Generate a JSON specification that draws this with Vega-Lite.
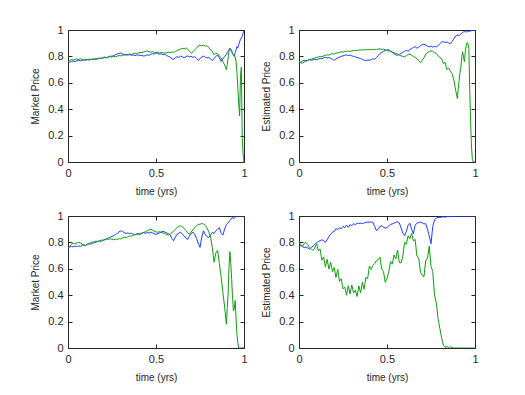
{
"$schema":"https://vega.github.io/schema/vega-lite/v6.json",
"padding":{"left":30,"top":24,"right":5,"bottom":5},
"background":"white",
"datasets":{"d":[
{"t":0,"a":0.760,"b":0.760,"c":0.760,"d":0.760,"e":0.760,"f":0.760,"g":0.770,"h":0.800},
{"t":0.01,"a":0.755,"b":0.768,"c":0.755,"d":0.752,"e":0.765,"f":0.770,"g":0.775,"h":0.785},
{"t":0.02,"a":0.762,"b":0.775,"c":0.765,"d":0.748,"e":0.770,"f":0.785,"g":0.768,"h":0.770},
{"t":0.03,"a":0.765,"b":0.772,"c":0.770,"d":0.758,"e":0.766,"f":0.792,"g":0.760,"h":0.792},
{"t":0.04,"a":0.760,"b":0.778,"c":0.766,"d":0.764,"e":0.772,"f":0.788,"g":0.765,"h":0.800},
{"t":0.05,"a":0.768,"b":0.780,"c":0.772,"d":0.770,"e":0.768,"f":0.796,"g":0.758,"h":0.782},
{"t":0.06,"a":0.772,"b":0.776,"c":0.776,"d":0.775,"e":0.774,"f":0.800,"g":0.750,"h":0.762},
{"t":0.07,"a":0.766,"b":0.782,"c":0.770,"d":0.780,"e":0.770,"f":0.795,"g":0.762,"h":0.748},
{"t":0.08,"a":0.770,"b":0.778,"c":0.774,"d":0.784,"e":0.778,"f":0.788,"g":0.772,"h":0.740},
{"t":0.09,"a":0.774,"b":0.774,"c":0.778,"d":0.788,"e":0.782,"f":0.778,"g":0.785,"h":0.758},
{"t":0.10,"a":0.770,"b":0.778,"c":0.775,"d":0.792,"e":0.778,"f":0.775,"g":0.798,"h":0.790},
{"t":0.11,"a":0.776,"b":0.775,"c":0.780,"d":0.795,"e":0.786,"f":0.785,"g":0.808,"h":0.735},
{"t":0.12,"a":0.772,"b":0.780,"c":0.785,"d":0.800,"e":0.790,"f":0.792,"g":0.812,"h":0.750},
{"t":0.13,"a":0.778,"b":0.776,"c":0.782,"d":0.797,"e":0.786,"f":0.798,"g":0.820,"h":0.665},
{"t":0.14,"a":0.775,"b":0.781,"c":0.790,"d":0.804,"e":0.794,"f":0.802,"g":0.815,"h":0.690},
{"t":0.15,"a":0.780,"b":0.779,"c":0.794,"d":0.808,"e":0.798,"f":0.806,"g":0.800,"h":0.615},
{"t":0.16,"a":0.778,"b":0.783,"c":0.788,"d":0.812,"e":0.802,"f":0.810,"g":0.820,"h":0.672},
{"t":0.17,"a":0.784,"b":0.780,"c":0.792,"d":0.810,"e":0.808,"f":0.806,"g":0.845,"h":0.598},
{"t":0.18,"a":0.788,"b":0.786,"c":0.785,"d":0.816,"e":0.812,"f":0.812,"g":0.862,"h":0.650},
{"t":0.19,"a":0.785,"b":0.784,"c":0.778,"d":0.820,"e":0.808,"f":0.818,"g":0.878,"h":0.578},
{"t":0.20,"a":0.792,"b":0.788,"c":0.770,"d":0.818,"e":0.818,"f":0.814,"g":0.882,"h":0.610},
{"t":0.21,"a":0.795,"b":0.792,"c":0.782,"d":0.824,"e":0.822,"f":0.820,"g":0.905,"h":0.535},
{"t":0.22,"a":0.790,"b":0.789,"c":0.788,"d":0.828,"e":0.828,"f":0.826,"g":0.896,"h":0.595},
{"t":0.23,"a":0.798,"b":0.794,"c":0.795,"d":0.830,"e":0.834,"f":0.822,"g":0.912,"h":0.505},
{"t":0.24,"a":0.803,"b":0.798,"c":0.800,"d":0.834,"e":0.840,"f":0.828,"g":0.904,"h":0.525},
{"t":0.25,"a":0.800,"b":0.795,"c":0.804,"d":0.832,"e":0.846,"f":0.824,"g":0.922,"h":0.448},
{"t":0.26,"a":0.808,"b":0.800,"c":0.808,"d":0.836,"e":0.852,"f":0.820,"g":0.912,"h":0.462},
{"t":0.27,"a":0.812,"b":0.797,"c":0.812,"d":0.838,"e":0.860,"f":0.826,"g":0.930,"h":0.400},
{"t":0.28,"a":0.818,"b":0.802,"c":0.806,"d":0.840,"e":0.868,"f":0.822,"g":0.914,"h":0.472},
{"t":0.29,"a":0.822,"b":0.806,"c":0.810,"d":0.837,"e":0.880,"f":0.828,"g":0.935,"h":0.410},
{"t":0.30,"a":0.826,"b":0.804,"c":0.804,"d":0.842,"e":0.888,"f":0.826,"g":0.926,"h":0.478},
{"t":0.31,"a":0.818,"b":0.808,"c":0.800,"d":0.844,"e":0.882,"f":0.834,"g":0.942,"h":0.418},
{"t":0.32,"a":0.812,"b":0.812,"c":0.796,"d":0.846,"e":0.874,"f":0.840,"g":0.934,"h":0.438},
{"t":0.33,"a":0.816,"b":0.810,"c":0.792,"d":0.845,"e":0.868,"f":0.836,"g":0.945,"h":0.390},
{"t":0.34,"a":0.810,"b":0.815,"c":0.788,"d":0.848,"e":0.872,"f":0.844,"g":0.944,"h":0.470},
{"t":0.35,"a":0.814,"b":0.818,"c":0.784,"d":0.850,"e":0.866,"f":0.850,"g":0.946,"h":0.418},
{"t":0.36,"a":0.808,"b":0.814,"c":0.778,"d":0.848,"e":0.870,"f":0.846,"g":0.942,"h":0.498},
{"t":0.37,"a":0.812,"b":0.820,"c":0.772,"d":0.851,"e":0.862,"f":0.854,"g":0.948,"h":0.445},
{"t":0.38,"a":0.806,"b":0.824,"c":0.768,"d":0.849,"e":0.858,"f":0.858,"g":0.950,"h":0.535},
{"t":0.39,"a":0.810,"b":0.822,"c":0.772,"d":0.852,"e":0.864,"f":0.862,"g":0.954,"h":0.525},
{"t":0.40,"a":0.812,"b":0.826,"c":0.770,"d":0.850,"e":0.868,"f":0.856,"g":0.952,"h":0.622},
{"t":0.41,"a":0.806,"b":0.830,"c":0.776,"d":0.853,"e":0.862,"f":0.864,"g":0.956,"h":0.595},
{"t":0.42,"a":0.808,"b":0.828,"c":0.782,"d":0.850,"e":0.870,"f":0.870,"g":0.952,"h":0.625},
{"t":0.43,"a":0.802,"b":0.834,"c":0.778,"d":0.854,"e":0.874,"f":0.876,"g":0.920,"h":0.640},
{"t":0.44,"a":0.806,"b":0.838,"c":0.790,"d":0.852,"e":0.868,"f":0.880,"g":0.890,"h":0.662},
{"t":0.45,"a":0.812,"b":0.842,"c":0.805,"d":0.856,"e":0.876,"f":0.888,"g":0.900,"h":0.668},
{"t":0.46,"a":0.808,"b":0.836,"c":0.822,"d":0.858,"e":0.870,"f":0.894,"g":0.920,"h":0.688},
{"t":0.47,"a":0.816,"b":0.832,"c":0.830,"d":0.852,"e":0.878,"f":0.900,"g":0.926,"h":0.598},
{"t":0.48,"a":0.820,"b":0.836,"c":0.838,"d":0.855,"e":0.872,"f":0.894,"g":0.915,"h":0.580},
{"t":0.49,"a":0.818,"b":0.830,"c":0.844,"d":0.850,"e":0.866,"f":0.886,"g":0.908,"h":0.498},
{"t":0.50,"a":0.826,"b":0.828,"c":0.848,"d":0.846,"e":0.860,"f":0.880,"g":0.912,"h":0.528},
{"t":0.51,"a":0.822,"b":0.832,"c":0.852,"d":0.842,"e":0.866,"f":0.876,"g":0.925,"h":0.575},
{"t":0.52,"a":0.816,"b":0.826,"c":0.840,"d":0.838,"e":0.872,"f":0.882,"g":0.936,"h":0.655},
{"t":0.53,"a":0.820,"b":0.830,"c":0.832,"d":0.832,"e":0.878,"f":0.876,"g":0.940,"h":0.635},
{"t":0.54,"a":0.812,"b":0.827,"c":0.820,"d":0.828,"e":0.884,"f":0.872,"g":0.946,"h":0.705},
{"t":0.55,"a":0.816,"b":0.824,"c":0.812,"d":0.824,"e":0.878,"f":0.866,"g":0.952,"h":0.675},
{"t":0.56,"a":0.808,"b":0.828,"c":0.808,"d":0.818,"e":0.872,"f":0.860,"g":0.956,"h":0.742},
{"t":0.57,"a":0.800,"b":0.832,"c":0.815,"d":0.810,"e":0.866,"f":0.856,"g":0.948,"h":0.648},
{"t":0.58,"a":0.795,"b":0.828,"c":0.822,"d":0.804,"e":0.858,"f":0.862,"g":0.910,"h":0.645},
{"t":0.59,"a":0.782,"b":0.834,"c":0.830,"d":0.800,"e":0.830,"f":0.872,"g":0.870,"h":0.695},
{"t":0.60,"a":0.778,"b":0.830,"c":0.838,"d":0.796,"e":0.812,"f":0.886,"g":0.850,"h":0.800},
{"t":0.61,"a":0.790,"b":0.838,"c":0.846,"d":0.806,"e":0.840,"f":0.900,"g":0.885,"h":0.788},
{"t":0.62,"a":0.798,"b":0.845,"c":0.840,"d":0.814,"e":0.862,"f":0.912,"g":0.930,"h":0.850},
{"t":0.63,"a":0.792,"b":0.850,"c":0.852,"d":0.818,"e":0.870,"f":0.920,"g":0.945,"h":0.828},
{"t":0.64,"a":0.802,"b":0.856,"c":0.860,"d":0.808,"e":0.878,"f":0.926,"g":0.900,"h":0.868},
{"t":0.65,"a":0.796,"b":0.862,"c":0.868,"d":0.800,"e":0.862,"f":0.918,"g":0.865,"h":0.812},
{"t":0.66,"a":0.790,"b":0.858,"c":0.874,"d":0.792,"e":0.848,"f":0.904,"g":0.930,"h":0.822},
{"t":0.67,"a":0.798,"b":0.864,"c":0.862,"d":0.784,"e":0.832,"f":0.890,"g":0.945,"h":0.695},
{"t":0.68,"a":0.804,"b":0.855,"c":0.870,"d":0.768,"e":0.822,"f":0.872,"g":0.950,"h":0.685},
{"t":0.69,"a":0.796,"b":0.838,"c":0.882,"d":0.752,"e":0.850,"f":0.862,"g":0.955,"h":0.575},
{"t":0.70,"a":0.800,"b":0.825,"c":0.888,"d":0.770,"e":0.868,"f":0.878,"g":0.948,"h":0.552},
{"t":0.71,"a":0.792,"b":0.835,"c":0.892,"d":0.790,"e":0.878,"f":0.895,"g":0.940,"h":0.540},
{"t":0.72,"a":0.798,"b":0.850,"c":0.886,"d":0.818,"e":0.862,"f":0.912,"g":0.942,"h":0.665},
{"t":0.73,"a":0.785,"b":0.862,"c":0.878,"d":0.830,"e":0.830,"f":0.926,"g":0.900,"h":0.678},
{"t":0.74,"a":0.770,"b":0.878,"c":0.872,"d":0.836,"e":0.795,"f":0.935,"g":0.850,"h":0.772},
{"t":0.75,"a":0.782,"b":0.886,"c":0.878,"d":0.842,"e":0.762,"f":0.938,"g":0.790,"h":0.618},
{"t":0.76,"a":0.796,"b":0.880,"c":0.870,"d":0.838,"e":0.840,"f":0.942,"g":0.920,"h":0.580},
{"t":0.77,"a":0.802,"b":0.884,"c":0.876,"d":0.830,"e":0.888,"f":0.940,"g":0.970,"h":0.400},
{"t":0.78,"a":0.794,"b":0.878,"c":0.872,"d":0.820,"e":0.860,"f":0.928,"g":0.985,"h":0.345},
{"t":0.79,"a":0.788,"b":0.882,"c":0.882,"d":0.808,"e":0.842,"f":0.910,"g":0.990,"h":0.225},
{"t":0.80,"a":0.792,"b":0.868,"c":0.895,"d":0.790,"e":0.838,"f":0.880,"g":0.988,"h":0.150},
{"t":0.81,"a":0.780,"b":0.850,"c":0.908,"d":0.785,"e":0.856,"f":0.840,"g":0.992,"h":0.080},
{"t":0.82,"a":0.770,"b":0.836,"c":0.912,"d":0.745,"e":0.876,"f":0.760,"g":0.994,"h":0.020},
{"t":0.83,"a":0.782,"b":0.812,"c":0.905,"d":0.755,"e":0.868,"f":0.650,"g":0.992,"h":0.005},
{"t":0.84,"a":0.800,"b":0.825,"c":0.910,"d":0.700,"e":0.888,"f":0.720,"g":0.995,"h":0.012},
{"t":0.85,"a":0.810,"b":0.820,"c":0.902,"d":0.712,"e":0.900,"f":0.740,"g":0.996,"h":0.004},
{"t":0.86,"a":0.790,"b":0.802,"c":0.896,"d":0.690,"e":0.912,"f":0.640,"g":0.995,"h":0.010},
{"t":0.87,"a":0.762,"b":0.790,"c":0.912,"d":0.670,"e":0.870,"f":0.540,"g":0.997,"h":0.002},
{"t":0.88,"a":0.780,"b":0.760,"c":0.935,"d":0.620,"e":0.855,"f":0.420,"g":0.998,"h":0},
{"t":0.89,"a":0.800,"b":0.735,"c":0.955,"d":0.545,"e":0.900,"f":0.310,"g":0.998,"h":0},
{"t":0.90,"a":0.815,"b":0.700,"c":0.962,"d":0.480,"e":0.935,"f":0.180,"g":0.999,"h":0},
{"t":0.905,"a":0.830,"b":0.740,"c":0.960,"d":0.560,"e":0.940,"f":0.300,"g":1,"h":0},
{"t":0.91,"a":0.840,"b":0.790,"c":0.958,"d":0.620,"e":0.950,"f":0.420,"g":1,"h":0},
{"t":0.915,"a":0.850,"b":0.840,"c":0.964,"d":0.680,"e":0.955,"f":0.620,"g":1,"h":0},
{"t":0.92,"a":0.862,"b":0.860,"c":0.970,"d":0.720,"e":0.965,"f":0.730,"g":1,"h":0},
{"t":0.925,"a":0.855,"b":0.850,"c":0.976,"d":0.800,"e":0.975,"f":0.640,"g":1,"h":0},
{"t":0.93,"a":0.845,"b":0.835,"c":0.982,"d":0.835,"e":0.985,"f":0.520,"g":1,"h":0},
{"t":0.935,"a":0.820,"b":0.820,"c":0.986,"d":0.790,"e":0.990,"f":0.380,"g":1,"h":0},
{"t":0.94,"a":0.812,"b":0.812,"c":0.988,"d":0.760,"e":0.978,"f":0.280,"g":1,"h":0},
{"t":0.945,"a":0.800,"b":0.800,"c":0.986,"d":0.840,"e":0.985,"f":0.300,"g":1,"h":0},
{"t":0.95,"a":0.830,"b":0.798,"c":0.985,"d":0.880,"e":0.990,"f":0.360,"g":1,"h":0},
{"t":0.955,"a":0.850,"b":0.760,"c":0.990,"d":0.905,"e":0.995,"f":0.220,"g":1,"h":0},
{"t":0.96,"a":0.875,"b":0.680,"c":0.992,"d":0.895,"e":0.998,"f":0.100,"g":1,"h":0},
{"t":0.965,"a":0.865,"b":0.560,"c":0.990,"d":0.860,"e":1,"f":0.040,"g":1,"h":0},
{"t":0.97,"a":0.890,"b":0.440,"c":0.990,"d":0.560,"e":1,"f":0,"g":1,"h":0},
{"t":0.975,"a":0.910,"b":0.350,"c":0.993,"d":0.300,"e":1,"f":0,"g":1,"h":0},
{"t":0.98,"a":0.930,"b":0.650,"c":0.995,"d":0.120,"e":1,"f":0,"g":1,"h":0},
{"t":0.985,"a":0.940,"b":0.720,"c":0.997,"d":0.020,"e":1,"f":0,"g":1,"h":0},
{"t":0.99,"a":0.955,"b":0.180,"c":0.998,"d":0,"e":1,"f":0,"g":1,"h":0},
{"t":0.995,"a":0.975,"b":0.060,"c":1,"d":0,"e":1,"f":0,"g":1,"h":0},
{"t":1,"a":0.995,"b":0,"c":1,"d":0,"e":1,"f":0,"g":1,"h":0}
]},
"columns":2,
"spacing":{"row":54,"column":55},
"bounds":"flush",
"concat":[
{"width":176,"height":132,"data":{"name":"d"},
 "layer":[
  {"mark":{"type":"line","color":"#1e3cff","strokeWidth":1,"clip":true},
   "encoding":{"x":{"field":"t","type":"quantitative","scale":{"domain":[0,1],"nice":false},"axis":{"orient":"bottom","values":[0,0.5,1],"title":"time (yrs)"}},
               "y":{"field":"a","type":"quantitative","scale":{"domain":[0,1],"nice":false},"axis":{"orient":"left","values":[0,0.2,0.4,0.6,0.8,1],"title":"Market Price"}}}},
  {"mark":{"type":"line","color":"#129a12","strokeWidth":1,"clip":true},
   "encoding":{"x":{"field":"t","type":"quantitative","axis":null},"y":{"field":"b","type":"quantitative","axis":null}}},
  {"mark":{"type":"point","opacity":0,"size":0},
   "encoding":{"x":{"field":"t","type":"quantitative","axis":{"orient":"top","values":[0,0.5,1],"labels":false,"title":null}},
               "y":{"field":"a","type":"quantitative","axis":{"orient":"right","values":[0,0.2,0.4,0.6,0.8,1],"labels":false,"title":null}}}}
 ],
 "resolve":{"axis":{"x":"independent","y":"independent"}}},
{"width":176,"height":132,"data":{"name":"d"},
 "layer":[
  {"mark":{"type":"line","color":"#1e3cff","strokeWidth":1,"clip":true},
   "encoding":{"x":{"field":"t","type":"quantitative","scale":{"domain":[0,1],"nice":false},"axis":{"orient":"bottom","values":[0,0.5,1],"title":"time (yrs)"}},
               "y":{"field":"c","type":"quantitative","scale":{"domain":[0,1],"nice":false},"axis":{"orient":"left","values":[0,0.2,0.4,0.6,0.8,1],"title":"Estimated Price"}}}},
  {"mark":{"type":"line","color":"#129a12","strokeWidth":1,"clip":true},
   "encoding":{"x":{"field":"t","type":"quantitative","axis":null},"y":{"field":"d","type":"quantitative","axis":null}}},
  {"mark":{"type":"point","opacity":0,"size":0},
   "encoding":{"x":{"field":"t","type":"quantitative","axis":{"orient":"top","values":[0,0.5,1],"labels":false,"title":null}},
               "y":{"field":"c","type":"quantitative","axis":{"orient":"right","values":[0,0.2,0.4,0.6,0.8,1],"labels":false,"title":null}}}}
 ],
 "resolve":{"axis":{"x":"independent","y":"independent"}}},
{"width":176,"height":132,"data":{"name":"d"},
 "layer":[
  {"mark":{"type":"line","color":"#1e3cff","strokeWidth":1,"clip":true},
   "encoding":{"x":{"field":"t","type":"quantitative","scale":{"domain":[0,1],"nice":false},"axis":{"orient":"bottom","values":[0,0.5,1],"title":"time (yrs)"}},
               "y":{"field":"e","type":"quantitative","scale":{"domain":[0,1],"nice":false},"axis":{"orient":"left","values":[0,0.2,0.4,0.6,0.8,1],"title":"Market Price"}}}},
  {"mark":{"type":"line","color":"#129a12","strokeWidth":1,"clip":true},
   "encoding":{"x":{"field":"t","type":"quantitative","axis":null},"y":{"field":"f","type":"quantitative","axis":null}}},
  {"mark":{"type":"point","opacity":0,"size":0},
   "encoding":{"x":{"field":"t","type":"quantitative","axis":{"orient":"top","values":[0,0.5,1],"labels":false,"title":null}},
               "y":{"field":"e","type":"quantitative","axis":{"orient":"right","values":[0,0.2,0.4,0.6,0.8,1],"labels":false,"title":null}}}}
 ],
 "resolve":{"axis":{"x":"independent","y":"independent"}}},
{"width":176,"height":132,"data":{"name":"d"},
 "layer":[
  {"mark":{"type":"line","color":"#1e3cff","strokeWidth":1,"clip":true},
   "encoding":{"x":{"field":"t","type":"quantitative","scale":{"domain":[0,1],"nice":false},"axis":{"orient":"bottom","values":[0,0.5,1],"title":"time (yrs)"}},
               "y":{"field":"g","type":"quantitative","scale":{"domain":[0,1],"nice":false},"axis":{"orient":"left","values":[0,0.2,0.4,0.6,0.8,1],"title":"Estimated Price"}}}},
  {"mark":{"type":"line","color":"#129a12","strokeWidth":1,"clip":true},
   "encoding":{"x":{"field":"t","type":"quantitative","axis":null},"y":{"field":"h","type":"quantitative","axis":null}}},
  {"mark":{"type":"point","opacity":0,"size":0},
   "encoding":{"x":{"field":"t","type":"quantitative","axis":{"orient":"top","values":[0,0.5,1],"labels":false,"title":null}},
               "y":{"field":"g","type":"quantitative","axis":{"orient":"right","values":[0,0.2,0.4,0.6,0.8,1],"labels":false,"title":null}}}}
 ],
 "resolve":{"axis":{"x":"independent","y":"independent"}}}
],
"config":{
 "font":"Liberation Sans",
 "view":{"stroke":null},
 "axis":{"grid":false,"domainColor":"#262626","tickColor":"#262626","labelColor":"#262626","titleColor":"#262626",
  "labelFontSize":11,"titleFontSize":10,"titleFontWeight":"normal","tickSize":-4,"labelPadding":9,
  "labelFlush":false,"labelOverlap":false,"format":"~g","domainWidth":1,"tickWidth":1},
 "axisX":{"titlePadding":8},
 "axisY":{"titlePadding":7}
}
}
